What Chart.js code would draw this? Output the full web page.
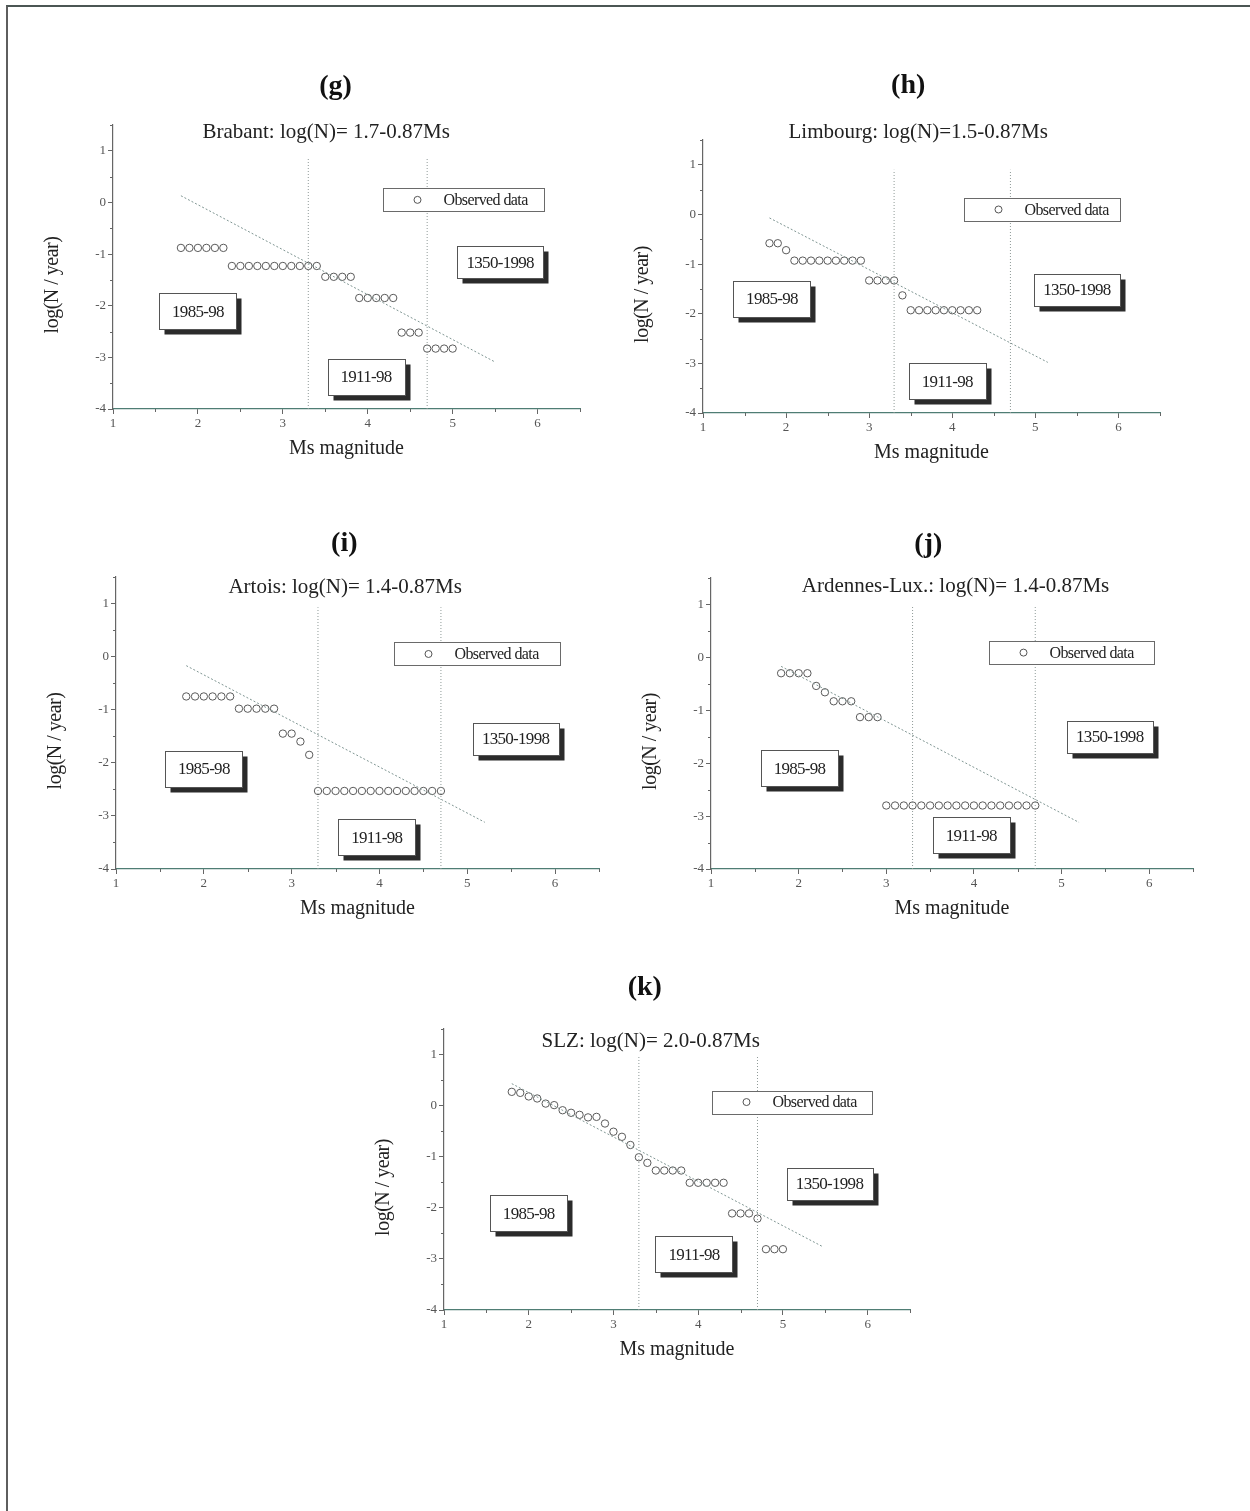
<!DOCTYPE html>
<html>
<head>
<meta charset="utf-8">
<script src="https://cdn.jsdelivr.net/npm/chart.js@4.4.0/dist/chart.umd.min.js"></script>
<style>
  body { margin: 0; background: #fff; width: 1250px; height: 1511px; position: relative; overflow: hidden; }
  #frame { position: absolute; left: 6px; top: 5px; width: 1260px; height: 1520px;
           border-top: 2px solid #4b5654; border-left: 2px solid #5e5e5e; }
  canvas { position: absolute; }
</style>
</head>
<body>
<div id="frame"></div>
<canvas id="g"></canvas>
<canvas id="h"></canvas>
<canvas id="i"></canvas>
<canvas id="j"></canvas>
<canvas id="k"></canvas>
<script>
// Valeurs (magnitude Ms, log(N / an))
const magBrabant = [1.8, 1.9, 2.0, 2.1, 2.2, 2.3, 2.4, 2.5, 2.6, 2.7, 2.8, 2.9, 3.0, 3.1, 3.2, 3.3, 3.4,
                    3.5, 3.6, 3.7, 3.8, 3.9, 4.0, 4.1, 4.2, 4.3, 4.4, 4.5, 4.6, 4.7, 4.8, 4.9, 5.0];
const logBrabant = [-0.88, -0.88, -0.88, -0.88, -0.88, -0.88,
                    -1.23, -1.23, -1.23, -1.23, -1.23, -1.23, -1.23, -1.23, -1.23, -1.23, -1.23,
                    -1.44, -1.44, -1.44, -1.44, -1.85, -1.85, -1.85, -1.85, -1.85,
                    -2.52, -2.52, -2.52, -2.83, -2.83, -2.83, -2.83];

const magLimbourg = [1.8, 1.9, 2.0, 2.1, 2.2, 2.3, 2.4, 2.5, 2.6, 2.7, 2.8, 2.9, 3.0, 3.1, 3.2, 3.3, 3.4,
                     3.5, 3.6, 3.7, 3.8, 3.9, 4.0, 4.1, 4.2, 4.3];
const logLimbourg = [-0.58, -0.58, -0.72, -0.93, -0.93, -0.93, -0.93, -0.93, -0.93, -0.93, -0.93, -0.93,
                     -1.33, -1.33, -1.33, -1.33, -1.63,
                     -1.93, -1.93, -1.93, -1.93, -1.93, -1.93, -1.93, -1.93, -1.93];

const magArtois = [1.8, 1.9, 2.0, 2.1, 2.2, 2.3, 2.4, 2.5, 2.6, 2.7, 2.8, 2.9, 3.0, 3.1, 3.2,
                   3.3, 3.4, 3.5, 3.6, 3.7, 3.8, 3.9, 4.0, 4.1, 4.2, 4.3, 4.4, 4.5, 4.6, 4.7];
const logArtois = [-0.75, -0.75, -0.75, -0.75, -0.75, -0.75, -0.98, -0.98, -0.98, -0.98, -0.98,
                   -1.45, -1.45, -1.60, -1.85,
                   -2.53, -2.53, -2.53, -2.53, -2.53, -2.53, -2.53, -2.53, -2.53, -2.53, -2.53, -2.53, -2.53, -2.53, -2.53];

const magArdennes = [1.8, 1.9, 2.0, 2.1, 2.2, 2.3, 2.4, 2.5, 2.6, 2.7, 2.8, 2.9,
                     3.0, 3.1, 3.2, 3.3, 3.4, 3.5, 3.6, 3.7, 3.8, 3.9, 4.0, 4.1, 4.2, 4.3, 4.4, 4.5, 4.6, 4.7];
const logArdennes = [-0.30, -0.30, -0.30, -0.30, -0.54, -0.66, -0.83, -0.83, -0.83, -1.13, -1.13, -1.13,
                     -2.80, -2.80, -2.80, -2.80, -2.80, -2.80, -2.80, -2.80, -2.80,
                     -2.80, -2.80, -2.80, -2.80, -2.80, -2.80, -2.80, -2.80, -2.80];

const magSLZ = [1.8, 1.9, 2.0, 2.1, 2.2, 2.3, 2.4, 2.5, 2.6, 2.7, 2.8, 2.9, 3.0, 3.1, 3.2, 3.3, 3.4,
                3.5, 3.6, 3.7, 3.8, 3.9, 4.0, 4.1, 4.2, 4.3, 4.4, 4.5, 4.6, 4.7, 4.8, 4.9, 5.0];
const logSLZ = [0.27, 0.25, 0.18, 0.14, 0.04, 0.01, -0.09, -0.14, -0.18, -0.23, -0.22, -0.35, -0.51, -0.61, -0.77,
                -1.01, -1.12, -1.27, -1.27, -1.27, -1.27, -1.51, -1.51, -1.51, -1.51, -1.51,
                -2.11, -2.11, -2.11, -2.21, -2.81, -2.81, -2.81];

// Droites d'ajustement (extrémités lues)
const fitBrabantMag = [1.8, 5.5];   const fitBrabantLog = [0.13, -3.09];
const fitLimbourgMag = [1.8, 5.15]; const fitLimbourgLog = [-0.07, -2.98];
const fitArtoisMag = [1.8, 5.2];    const fitArtoisLog = [-0.17, -3.12];
const fitArdennesMag = [1.8, 5.2];  const fitArdennesLog = [-0.17, -3.12];
const fitSLZMag = [1.8, 5.47];      const fitSLZLog = [0.43, -2.76];

// Limites des périodes de complétude
const periodLimits = [3.3, 4.7];
const periodLabels = ['1985-98', '1911-98', '1350-1998'];
const xTickLabels = [1, 2, 3, 4, 5, 6];
const yTickLabels = [-4, -3, -2, -1, 0, 1];

// Mise en page de chaque panneau (zone du graphique en pixels + positions des textes en unités des axes)
const panneaux = [
  { id: 'g', lettre: '(g)', eq: 'Brabant: log(N)= 1.7-0.87Ms', mag: magBrabant, logN: logBrabant,
    fitMag: fitBrabantMag, fitLog: fitBrabantLog, limTop: 0.85, legW: 161,
    L: 112.7, T: 124.5, W: 467.3, H: 284.2,
    pos: { lettre: [3.62, 2.24], eq: [3.51, 1.35], legende: [5.13, 0.05], p0: [2.0, -2.11], p1: [3.98, -3.38], p2: [5.56, -1.16] } },
  { id: 'h', lettre: '(h)', eq: 'Limbourg: log(N)=1.5-0.87Ms', mag: magLimbourg, logN: logLimbourg,
    fitMag: fitLimbourgMag, fitLog: fitLimbourgLog, limTop: 0.9, legW: 156,
    L: 702.7, T: 140, W: 456.5, H: 272.7,
    pos: { lettre: [3.47, 2.59], eq: [3.59, 1.66], legende: [5.08, 0.1], p0: [1.83, -1.7], p1: [3.94, -3.36], p2: [5.5, -1.52] } },
  { id: 'i', lettre: '(i)', eq: 'Artois: log(N)= 1.4-0.87Ms', mag: magArtois, logN: logArtois,
    fitMag: fitArtoisMag, fitLog: fitArtoisLog, limTop: 0.93, legW: 166,
    L: 116, T: 576.5, W: 483, H: 291.8,
    pos: { lettre: [3.6, 2.13], eq: [3.61, 1.3], legende: [5.11, 0.05], p0: [2.0, -2.11], p1: [3.97, -3.4], p2: [5.55, -1.55] } },
  { id: 'j', lettre: '(j)', eq: 'Ardennes-Lux.: log(N)= 1.4-0.87Ms', mag: magArdennes, logN: logArdennes,
    fitMag: fitArdennesMag, fitLog: fitArdennesLog, limTop: 0.98, legW: 165,
    L: 710.7, T: 577.6, W: 482.3, H: 291.1,
    pos: { lettre: [3.48, 2.12], eq: [3.79, 1.34], legende: [5.11, 0.09], p0: [2.01, -2.1], p1: [3.97, -3.36], p2: [5.55, -1.5] } },
  { id: 'k', lettre: '(k)', eq: 'SLZ: log(N)= 2.0-0.87Ms', mag: magSLZ, logN: logSLZ,
    fitMag: fitSLZMag, fitLog: fitSLZLog, limTop: 0.99, legW: 160,
    L: 444.3, T: 1029, W: 466.4, H: 281,
    pos: { lettre: [3.37, 2.31], eq: [3.44, 1.25], legende: [5.11, 0.07], p0: [2.0, -2.11], p1: [3.95, -2.91], p2: [5.55, -1.53] } }
];

const SERIF = '"Liberation Serif", "DejaVu Serif", serif';
const PAD_G = 90, PAD_T = 80, PAD_D = 20, HAUT_X = 60;

function boiteOmbre(ctx, cx, cy, w, h, texte) {
  const x = Math.round(cx - w / 2) + 0.5, y = Math.round(cy - h / 2) + 0.5;
  ctx.fillStyle = '#2b2b2b';
  ctx.fillRect(x + 5, y + 5, w, h);
  ctx.fillStyle = '#ffffff';
  ctx.fillRect(x, y, w, h);
  ctx.strokeStyle = '#555';
  ctx.lineWidth = 1;
  ctx.strokeRect(x, y, w, h);
  ctx.fillStyle = '#222';
  ctx.font = '17px ' + SERIF;
  ctx.letterSpacing = '-0.7px';
  ctx.textAlign = 'center';
  ctx.textBaseline = 'middle';
  ctx.fillText(texte, cx, cy + 1);
  ctx.letterSpacing = '0px';
}

const decor = {
  id: 'decor',
  afterDatasetsDraw(chart) {
    const p = chart.options.plugins.decor.panneau;
    const ctx = chart.ctx;
    const sx = chart.scales.x, sy = chart.scales.y;
    const px = v => sx.getPixelForValue(v), py = v => sy.getPixelForValue(v);
    ctx.save();

    // petites graduations
    ctx.strokeStyle = '#666';
    ctx.lineWidth = 1;
    sx.ticks.forEach(t => {
      if (Number.isInteger(t.value)) return;
      const x = Math.round(px(t.value)) + 0.5;
      ctx.beginPath(); ctx.moveTo(x, sx.top); ctx.lineTo(x, sx.top + 3); ctx.stroke();
    });
    sy.ticks.forEach(t => {
      if (Number.isInteger(t.value)) return;
      const y = Math.round(py(t.value)) + 0.5;
      ctx.beginPath(); ctx.moveTo(sy.right, y); ctx.lineTo(sy.right - 3, y); ctx.stroke();
    });

    // lettre du panneau et équation
    ctx.fillStyle = '#111';
    ctx.textAlign = 'center';
    ctx.textBaseline = 'middle';
    ctx.font = 'bold 28px ' + SERIF;
    ctx.fillText(p.lettre, px(p.pos.lettre[0]), py(p.pos.lettre[1]));
    ctx.font = '21px ' + SERIF;
    ctx.fillStyle = '#222';
    ctx.fillText(p.eq, px(p.pos.eq[0]), py(p.pos.eq[1]));

    // titre de l'axe y
    const a = chart.chartArea;
    ctx.save();
    ctx.translate(a.left - 60, (a.top + a.bottom) / 2 + 18);
    ctx.rotate(-Math.PI / 2);
    ctx.font = '20px ' + SERIF;
    ctx.letterSpacing = '-0.5px';
    ctx.fillText('log(N / year)', 0, 0);
    ctx.restore();

    // légende
    const lx = px(p.pos.legende[0]), ly = py(p.pos.legende[1]);
    const lw = p.legW, lh = 23;
    const bx = Math.round(lx - lw / 2) + 0.5, by = Math.round(ly - lh / 2) + 0.5;
    ctx.fillStyle = '#fff';
    ctx.fillRect(bx, by, lw, lh);
    ctx.strokeStyle = '#6a6a6a';
    ctx.strokeRect(bx, by, lw, lh);
    ctx.beginPath();
    ctx.arc(bx + 34, ly, 3.5, 0, Math.PI * 2);
    ctx.strokeStyle = '#555';
    ctx.stroke();
    ctx.fillStyle = '#222';
    ctx.font = '16px ' + SERIF;
    ctx.letterSpacing = '-0.6px';
    ctx.textAlign = 'left';
    ctx.fillText('Observed data', bx + 60, ly + 1);
    ctx.letterSpacing = '0px';

    // étiquettes des périodes
    boiteOmbre(ctx, px(p.pos.p0[0]), py(p.pos.p0[1]), 77, 36, periodLabels[0]);
    boiteOmbre(ctx, px(p.pos.p1[0]), py(p.pos.p1[1]), 77, 36, periodLabels[1]);
    boiteOmbre(ctx, px(p.pos.p2[0]), py(p.pos.p2[1]), 86, 32, periodLabels[2]);
    ctx.restore();
  }
};

function axe(min, max, couleurBord, estX) {
  return {
    type: 'linear', min: min, max: max,
    border: { color: couleurBord, width: 1.2 },
    grid: {
      drawOnChartArea: false, drawTicks: true, tickLength: 5,
      tickColor: c => (c.tick && Number.isInteger(c.tick.value)) ? '#666' : 'rgba(0,0,0,0)'
    },
    ticks: {
      stepSize: 0.5, autoSkip: false, maxRotation: 0, padding: estX ? 2 : 2,
      color: '#555', font: { family: SERIF, size: 13 },
      callback: v => {
        const liste = estX ? xTickLabels : yTickLabels;
        return liste.includes(v) ? String(v) : '';
      }
    },
    afterFit: s => { if (estX) s.height = HAUT_X; else s.width = PAD_G; }
  };
}

panneaux.forEach(p => {
  const canvas = document.getElementById(p.id);
  canvas.width = Math.round(PAD_G + p.W + PAD_D);
  canvas.height = Math.round(PAD_T + p.H + HAUT_X);
  canvas.style.left = (p.L - PAD_G) + 'px';
  canvas.style.top = (p.T - PAD_T) + 'px';

  const observe = p.mag.map((m, i) => ({ x: m, y: p.logN[i] }));
  const ajust = p.fitMag.map((m, i) => ({ x: m, y: p.fitLog[i] }));
  const lim1 = [{ x: periodLimits[0], y: -4 }, { x: periodLimits[0], y: p.limTop }];
  const lim2 = [{ x: periodLimits[1], y: -4 }, { x: periodLimits[1], y: p.limTop }];

  const xAxe = axe(1, 6.5, '#4f7d74', true);
  xAxe.title = { display: true, text: 'Ms magnitude', color: '#222',
                 font: { family: SERIF, size: 20 }, padding: { top: 0, bottom: 8 } };
  const yAxe = axe(-4, 1.5, '#666', false);

  new Chart(canvas, {
    type: 'scatter',
    data: {
      datasets: [
        { data: lim1, showLine: true, borderColor: '#8f9a98', borderWidth: 1, borderDash: [1, 2], pointRadius: 0 },
        { data: lim2, showLine: true, borderColor: '#8f9a98', borderWidth: 1, borderDash: [1, 2], pointRadius: 0 },
        { data: ajust, showLine: true, borderColor: '#7f9592', borderWidth: 1, borderDash: [2, 2], pointRadius: 0 },
        { data: observe, showLine: false, pointRadius: 3.7, pointBorderWidth: 1,
          pointBorderColor: '#5a5a5a', pointBackgroundColor: 'rgba(255,255,255,0)' }
      ]
    },
    options: {
      responsive: false, animation: false, devicePixelRatio: 1,
      layout: { padding: { left: 0, top: PAD_T, right: PAD_D, bottom: 0 } },
      plugins: { legend: { display: false }, tooltip: { enabled: false }, decor: { panneau: p } },
      scales: { x: xAxe, y: yAxe }
    },
    plugins: [decor]
  });
});
</script>
</body>
</html>
